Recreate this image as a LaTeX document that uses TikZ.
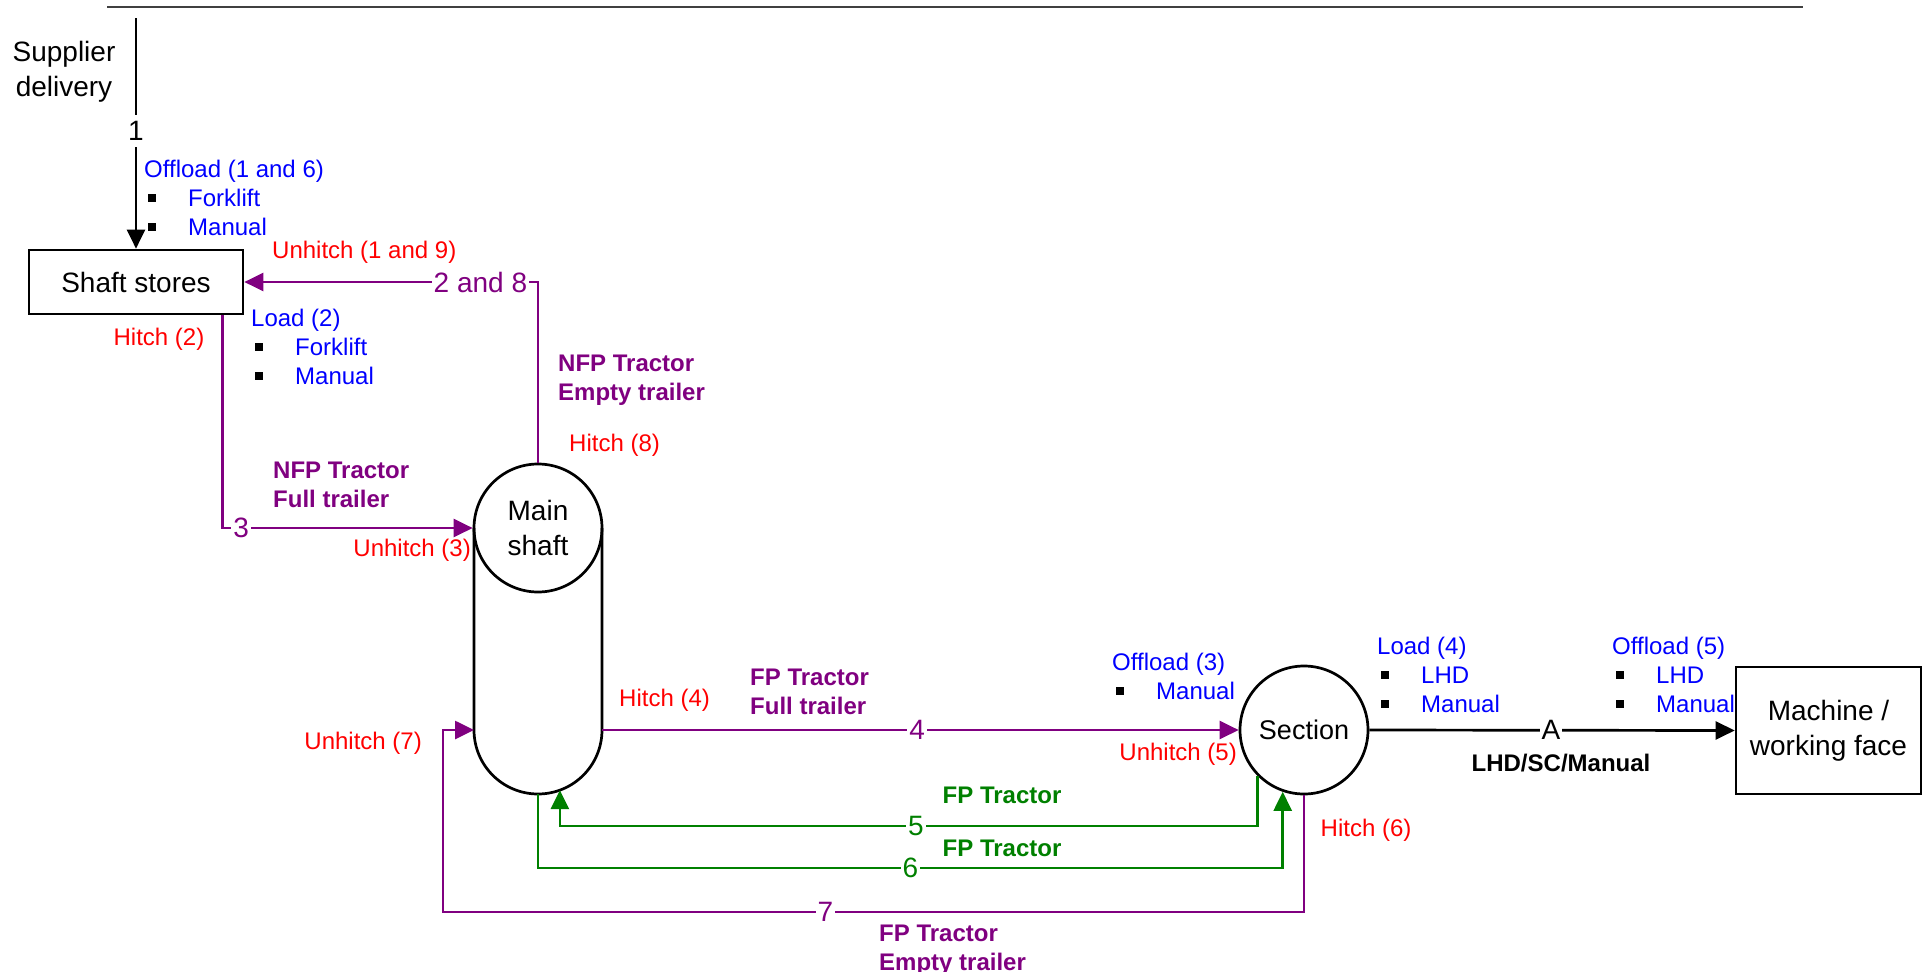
\documentclass[tikz,border=0pt]{standalone}
\usepackage{fontspec}
\setmainfont{Liberation Sans}
\usetikzlibrary{arrows.meta}
\definecolor{pur}{RGB}{128,0,128}
\definecolor{grn}{RGB}{0,128,0}
\definecolor{rd}{RGB}{255,0,0}
\definecolor{bl}{RGB}{0,0,255}
\definecolor{rulegray}{RGB}{64,64,64}
\newcommand{\bulitem}{\makebox[44pt][l]{\hspace{4pt}\textcolor{black}{\rule[4.5pt]{8pt}{8pt}}}}
\begin{document}
\begin{tikzpicture}[x=1pt,y=-1pt,
  big/.style={font=\fontsize{28}{35}\selectfont},
  small/.style={font=\fontsize{24}{29}\selectfont, inner sep=0pt},
  smallb/.style={font=\fontsize{24}{28.5}\selectfont\bfseries, inner sep=0pt},
  lbl/.style={font=\fontsize{28}{34}\selectfont, fill=white, inner sep=2pt},
  conn/.style={line width=2.7pt},
  arr/.style={conn, -{Triangle[length=19pt,width=18pt]}},
  box/.style={draw, line width=2.7pt, rectangle, inner sep=0pt},
  rnd/.style={draw, line width=2.7pt, circle, inner sep=0pt, minimum size=128pt},
]
\useasboundingbox (0,0) rectangle (1923,972);

% top rule
\coordinate (tl) at (107,7);
\coordinate (tr) at (1803,7);
\draw[line width=2pt, rulegray] (tl) -- (tr);

% main nodes
\node[big, align=center] (supp) at (64,71.5) {Supplier\\delivery};
\coordinate (supstart) at (136,18);
\node[box, big, minimum width=214pt, minimum height=64pt] (ss) at (136,282) {Shaft stores};
\node[rnd, big, align=center] (ms) at (538,528) {Main\\shaft};
\node[circle, inner sep=0pt, outer sep=0pt, minimum size=128pt] (msb) at (538,730) {};
\node[rnd, font=\fontsize{27}{32}\selectfont] (sec) at (1304,730) {Section};
\node[box, big, align=center, minimum width=185pt, minimum height=127pt] (mach) at (1828.5,730.5) {Machine /\\working face};

% main shaft body (stadium below the top circle)
\draw[conn] ([xshift=-64pt]ms.center) -- ([xshift=-64pt]msb.center)
  arc[start angle=180,end angle=360,radius=64pt] -- ([xshift=64pt]ms.center);

% helper coordinates
\coordinate (h5) at (0,826);
\coordinate (h6) at (0,868);
\coordinate (c7) at (443,912);
\coordinate (s5) at (sec.-135);
\coordinate (s6) at (sec.-109);
\coordinate (m5) at (msb.-70);

% connectors
\draw[arr] (supstart) -- node[lbl, pos=0.488, minimum height=32pt, inner sep=0pt] (n1) {1} (ss.north);
\draw[arr, pur] (ms.north) |- node[lbl, pos=0.598, text=pur] (n28) {2 and 8} (ss.east);
\draw[arr, pur] ([xshift=-22pt]ss.south east) |- node[lbl, pos=0.5375, text=pur] (n3) {3} (ms.west);
\draw[arr, pur] (msb.east) -- node[lbl, pos=0.495, text=pur] (n4) {4} (sec.west);
\draw[arr, grn] (s5) |- node[lbl, pos=0.745, text=grn] (n5) {5} (m5 |- h5) -- (m5);
\draw[arr, grn] (msb.south) |- node[lbl, pos=0.75, text=grn] (n6) {6} (s6 |- h6) -- (s6);
\draw[arr, pur] (sec.south) |- node[lbl, pos=0.778, text=pur] (n7) {7} (c7) |- (msb.west);
\draw[arr] (sec.east) -- node[lbl, pos=0.497] (nA) {A} (mach.west);

% activity lists (blue)
\node[small, text=bl, anchor=base west] (off16) at (144,177)
  {\begin{tabular}[t]{@{}l@{}}Offload (1 and 6)\\\bulitem Forklift\\\bulitem Manual\end{tabular}};
\node[small, text=bl, anchor=base west] (load2) at (251,326.3)
  {\begin{tabular}[t]{@{}l@{}}Load (2)\\\bulitem Forklift\\\bulitem Manual\end{tabular}};
\node[small, text=bl, anchor=base west] (off3) at (1112,670.3)
  {\begin{tabular}[t]{@{}l@{}}Offload (3)\\\bulitem Manual\end{tabular}};
\node[small, text=bl, anchor=base west] (load4) at (1377,654.3)
  {\begin{tabular}[t]{@{}l@{}}Load (4)\\\bulitem LHD\\\bulitem Manual\end{tabular}};
\node[small, text=bl, anchor=base west] (off5) at (1612,654.3)
  {\begin{tabular}[t]{@{}l@{}}Offload (5)\\\bulitem LHD\\\bulitem Manual\end{tabular}};

% hitch / unhitch (red)
\node[small, text=rd, anchor=base west] (u19) at (272,258.6) {Unhitch (1 and 9)};
\node[small, text=rd, anchor=base east] (h2) at (204.5,345.3) {Hitch (2)};
\node[small, text=rd, anchor=base west] (h8) at (569,451.6) {Hitch (8)};
\node[small, text=rd, anchor=base east] (u3) at (471,556.6) {Unhitch (3)};
\node[small, text=rd, anchor=base west] (h4) at (619,706.6) {Hitch (4)};
\node[small, text=rd, anchor=base east] (u7) at (422,749.6) {Unhitch (7)};
\node[small, text=rd, anchor=base east] (u5) at (1237,760.3) {Unhitch (5)};
\node[small, text=rd, anchor=base west] (h6) at (1320.5,836.3) {Hitch (6)};

% vehicle labels (bold)
\node[smallb, text=pur, anchor=base west] (v8) at (558,371.6)
  {\begin{tabular}[t]{@{}l@{}}NFP Tractor\\Empty trailer\end{tabular}};
\node[smallb, text=pur, anchor=base west] (v3) at (273,478.6)
  {\begin{tabular}[t]{@{}l@{}}NFP Tractor\\Full trailer\end{tabular}};
\node[smallb, text=pur, anchor=base west] (v4) at (750,685.6)
  {\begin{tabular}[t]{@{}l@{}}FP Tractor\\Full trailer\end{tabular}};
\node[smallb, text=grn, anchor=base west] (v5) at (942.5,803.6) {FP Tractor};
\node[smallb, text=grn, anchor=base west] (v6) at (942.5,856.6) {FP Tractor};
\node[smallb, text=pur, anchor=base west] (v7) at (879,941.6)
  {\begin{tabular}[t]{@{}l@{}}FP Tractor\\Empty trailer\end{tabular}};
\node[smallb, anchor=base] (vA) at (1561,771.6) {LHD/SC/Manual};
\end{tikzpicture}
\end{document}
